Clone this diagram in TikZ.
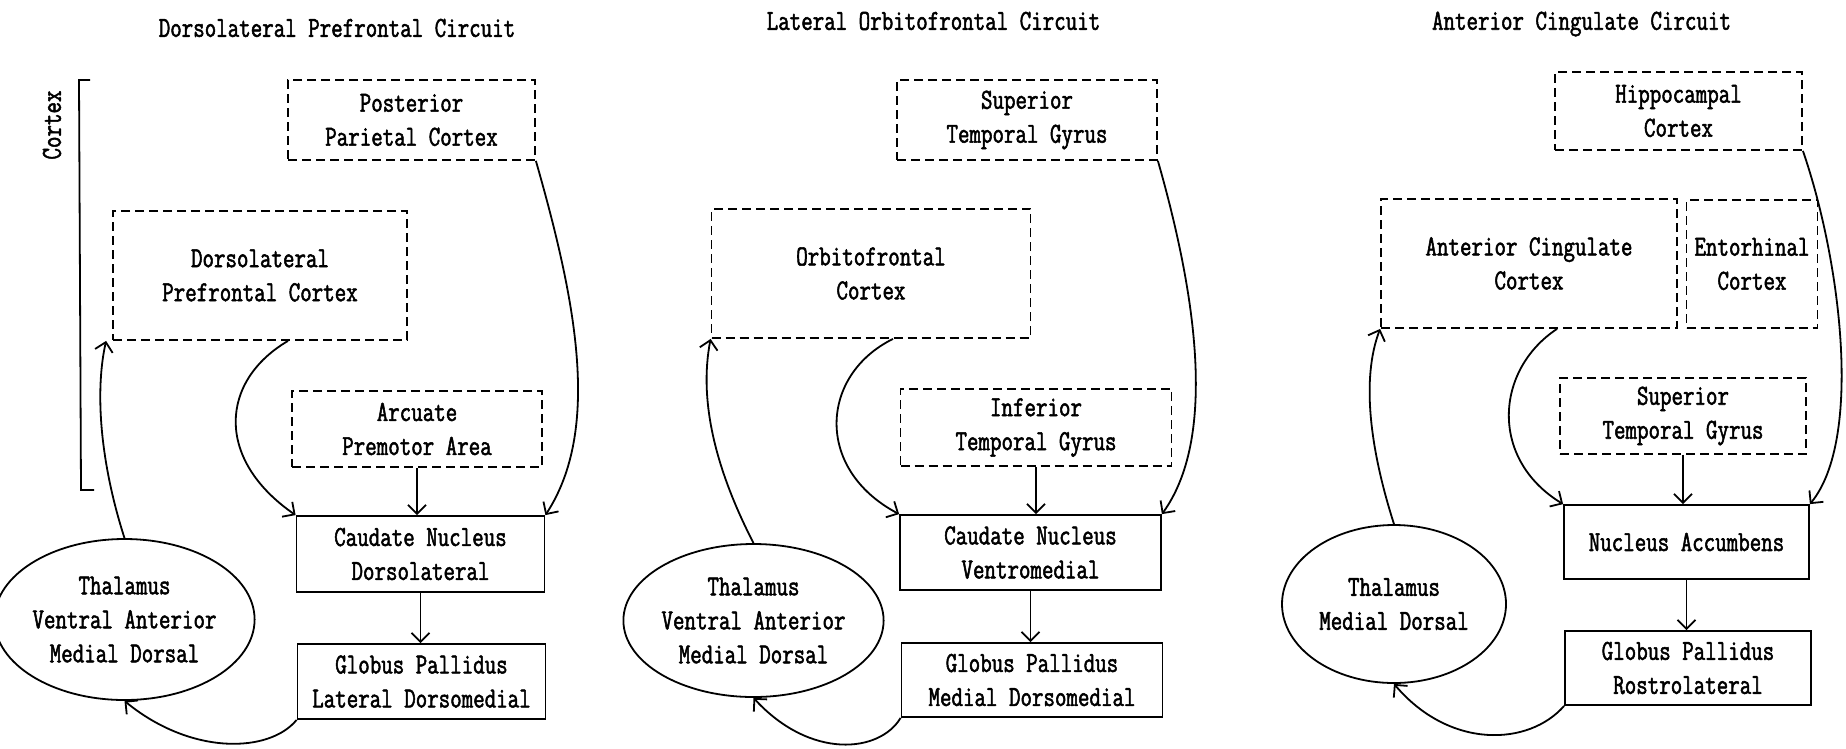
\documentclass[tikz,border=0pt]{standalone}
\usepackage{fontspec}
\setmonofont[FakeStretch=0.77,FakeBold=1.8]{Latin Modern Mono}
\usepackage{tikz}
\usetikzlibrary{positioning, shapes.geometric, arrows.meta}
\newcommand{\circfont}{\ttfamily\fontsize{29}{34}\selectfont}

\begin{document}
\begin{tikzpicture}[
        x=1pt, y=-1pt,
        font=\circfont,
        area/.style={draw, dash pattern=on 9pt off 5pt, line width=1.8pt, align=center, inner sep=0pt},
        nucleus/.style={draw, line width=1.8pt, align=center, inner sep=0pt},
        thal/.style={draw, ellipse, line width=1.8pt, align=center, inner sep=0pt},
        boxsize/.style 2 args={minimum width=#1pt, minimum height=#2pt},
        rel/.style={-{Straight Barb[length=9pt,width=18pt]}, line width=1.8pt}
    ]
        \fill[white] (0,0) rectangle (1846,748);
        \useasboundingbox (0,0) rectangle (1846,748);

        % Dorsolateral prefrontal circuit
        \begin{scope}
            \node (t1) at (337,28) {Dorsolateral Prefrontal Circuit};
            \node[rotate=90] (ctx) at (52,125) {Cortex};
            \coordinate (bt) at (90,80);
            \coordinate (bb) at (94,490);
            \draw[line width=1.8pt] (bt) -- (79,80) -- (81,490) -- (bb);
            \node[area, boxsize={247}{80}] (ppc) at (411.5,120) {Posterior\\Parietal Cortex};
            \node[area, boxsize={294}{129}] (dlpfc) at (260,275.5) {Dorsolateral\\Prefrontal Cortex};
            \node[area, boxsize={250}{76}] (apa) at (417,429) {Arcuate\\Premotor Area};
            \node[nucleus, boxsize={248}{76}] (cndl) at (420.5,554) {Caudate Nucleus\\Dorsolateral};
            \node[nucleus, boxsize={248}{75}] (gpl) at (421.5,681.5) {Globus Pallidus\\Lateral Dorsomedial};
            \node[thal, boxsize={225}{161}] (th1) at (124.5,619.5) {Thalamus\\Ventral Anterior\\Medial Dorsal};
            \draw[rel] (ppc.south east) .. controls +(40,140) and +(56,-86) .. (cndl.north east);
            \draw[rel] ([xshift=28pt]dlpfc.south) .. controls +(-68,40) and +(-81,-56) .. (cndl.north west);
            \draw[rel] (apa.south) -- (apa.south |- cndl.north);
            \draw[rel] (cndl.south) -- (cndl.south |- gpl.north);
            \draw[rel] (gpl.south west) .. controls +(-27,33) and +(67,55) .. (th1.south);
            \draw[rel] (th1.north) .. controls +(-25,-78) and +(-11,49) .. ([xshift=-6pt]dlpfc.south west);
        \end{scope}

        % Lateral orbitofrontal circuit
        \begin{scope}
            \node (t2) at (933.5,21) {Lateral Orbitofrontal Circuit};
            \node[area, boxsize={260}{80}] (stg) at (1027,120) {Superior\\Temporal Gyrus};
            \node[area, boxsize={319}{129}] (ofc) at (871,273.5) {Orbitofrontal\\Cortex};
            \node[area, boxsize={271}{77}] (itg) at (1036,427.5) {Inferior\\Temporal Gyrus};
            \node[nucleus, boxsize={261}{75}] (cnvm) at (1030.5,552.5) {Caudate Nucleus\\Ventromedial};
            \node[nucleus, boxsize={261}{74}] (gpm) at (1032,680) {Globus Pallidus\\Medial Dorsomedial};
            \node[thal, boxsize={225}{153}] (th2) at (753.5,620.5) {Thalamus\\Ventral Anterior\\Medial Dorsal};
            \draw[rel] (stg.south east) .. controls +(40,140) and +(54,-75) .. (cnvm.north east);
            \draw[rel] ([xshift=22pt]ofc.south) .. controls +(-73,36) and +(-85,-45) .. (cnvm.north west);
            \draw[rel] (itg.south) -- (itg.south |- cnvm.north);
            \draw[rel] (cnvm.south) -- (cnvm.south |- gpm.north);
            \draw[rel] (gpm.south west) .. controls +(-21,35) and +(57,62) .. (th2.south);
            \draw[rel] (th2.north) .. controls +(-38,-74) and +(-12,62) .. (ofc.south west);
        \end{scope}

        % Anterior cingulate circuit
        \begin{scope}
            \node (t3) at (1581.5,24) {Anterior Cingulate Circuit};
            \node[area, boxsize={247}{78}] (hip) at (1678.5,111) {Hippocampal\\Cortex};
            \node[area, boxsize={296}{129}] (acc) at (1529,263.5) {Anterior Cingulate\\Cortex};
            \node[area, boxsize={131}{128}] (ent) at (1752,264) {Entorhinal\\Cortex};
            \node[area, boxsize={246}{76}] (stg3) at (1683,416) {Superior\\Temporal Gyrus};
            \node[nucleus, boxsize={245}{74}] (nacc) at (1686.5,542) {Nucleus Accumbens};
            \node[nucleus, boxsize={246}{74}] (gpr) at (1688,668) {Globus Pallidus\\Rostrolateral};
            \node[thal, boxsize={224}{158}] (th3) at (1394,604) {Thalamus\\Medial Dorsal};
            \draw[rel] (hip.south east) .. controls +(38,110) and +(53,-65) .. (nacc.north east);
            \draw[rel] ([xshift=28pt]acc.south) .. controls +(-62,41) and +(-74,-45) .. (nacc.north west);
            \draw[rel] (stg3.south) -- (stg3.south |- nacc.north);
            \draw[rel] (nacc.south) -- (nacc.south |- gpr.north);
            \draw[rel] (gpr.south west) .. controls +(-35,40) and +(56,66) .. (th3.south);
            \draw[rel] (th3.north) .. controls +(-24,-75) and +(-19,50) .. (acc.south west);
        \end{scope}
    \end{tikzpicture}
\end{document}
